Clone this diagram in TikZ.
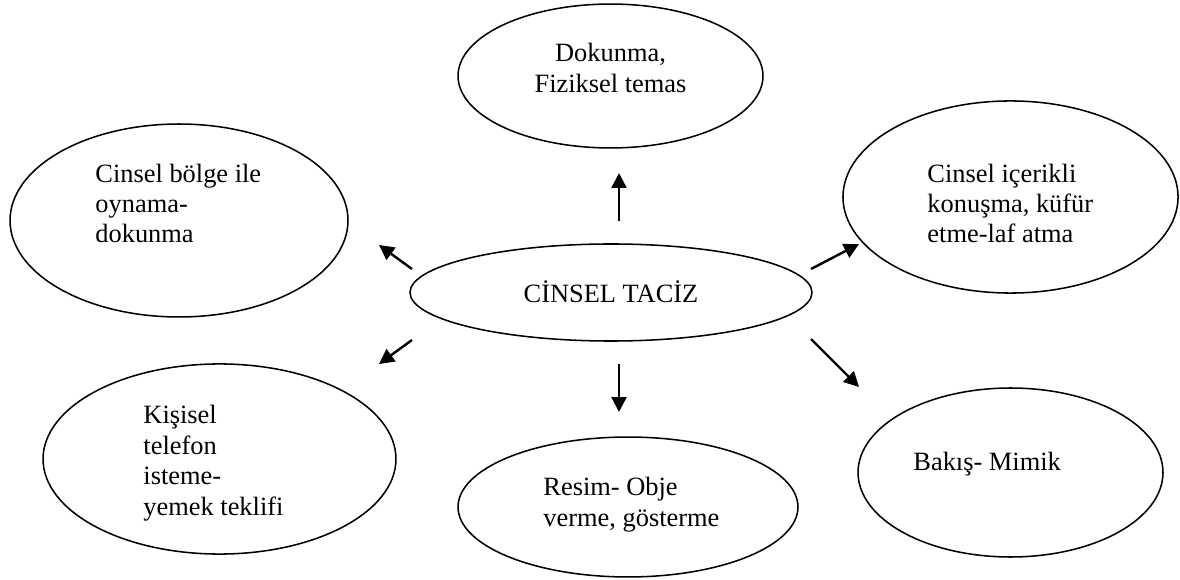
\documentclass[tikz,border=0pt]{standalone}
\usepackage{fontspec}
\setmainfont{Liberation Serif}
\usetikzlibrary{arrows.meta, shapes.geometric}

\begin{document}
\begin{tikzpicture}[
    x=0.4545pt, y=-0.4545pt,
    bubble/.style={ellipse, draw, line width=0.7pt, inner sep=0pt},
    txt/.style={inner sep=0pt, align=left, anchor=base west, font=\fontsize{12pt}{13.86pt}\selectfont},
    arr/.style={-{Triangle[length=6.8pt, width=6.8pt]}, line width=1.1pt},
  ]
  \useasboundingbox (0,0) rectangle (1180,580);

  \node[bubble, minimum width=182.7pt, minimum height=44.1pt] (taciz)   at (611,292.5) {};
  \node[bubble, minimum width=138.6pt, minimum height=65.4pt] (dokunma) at (610.5,76) {};
  \node[bubble, minimum width=153.6pt, minimum height=87.7pt] (bolge)   at (179,220.5) {};
  \node[bubble, minimum width=152.3pt, minimum height=87.3pt] (icerik)  at (1010.5,197) {};
  \node[bubble, minimum width=160.4pt, minimum height=86.4pt] (kisisel) at (219.5,459) {};
  \node[bubble, minimum width=154.5pt, minimum height=63.6pt] (resim)   at (628,507) {};
  \node[bubble, minimum width=138.6pt, minimum height=76.8pt] (bakis)   at (1010.5,472.5) {};

  % multi-line texts sit on the baseline of their last line
  \node[txt, align=center, anchor=base] (taciz-t)   at (611,302.7) {CİNSEL TACİZ};
  \node[txt, align=center, anchor=base] (dokunma-t) at (610.5,92.5) {Dokunma,\\Fiziksel temas};
  \node[txt] (bolge-t)   at (95,243)   {Cinsel bölge ile\\oynama-\\dokunma};
  \node[txt] (icerik-t)  at (927,243)  {Cinsel içerikli\\konuşma, küfür\\etme-laf atma};
  \node[txt] (kisisel-t) at (143,515)  {Kişisel\\telefon\\isteme-\\yemek teklifi};
  \node[txt] (resim-t)   at (543,526)  {Resim- Obje\\verme, gösterme};
  \node[txt] (bakis-t)   at (913,470.7) {Bakış- Mimik};

  \coordinate (u0) at (619,221); \coordinate (u1) at (619,173);
  \coordinate (d0) at (619,364); \coordinate (d1) at (619,412);
  \coordinate (lu0) at (412,269); \coordinate (lu1) at (379,245);
  \coordinate (ld0) at (412,340); \coordinate (ld1) at (379,364);
  \coordinate (ru0) at (811,269); \coordinate (ru1) at (859,244);
  \coordinate (rd0) at (811,339); \coordinate (rd1) at (859,387);

  \draw[arr] (u0) -- (u1);
  \draw[arr] (d0) -- (d1);
  \draw[arr] (lu0) -- (lu1);
  \draw[arr] (ld0) -- (ld1);
  \draw[arr] (ru0) -- (ru1);
  \draw[arr] (rd0) -- (rd1);
\end{tikzpicture}
\end{document}
